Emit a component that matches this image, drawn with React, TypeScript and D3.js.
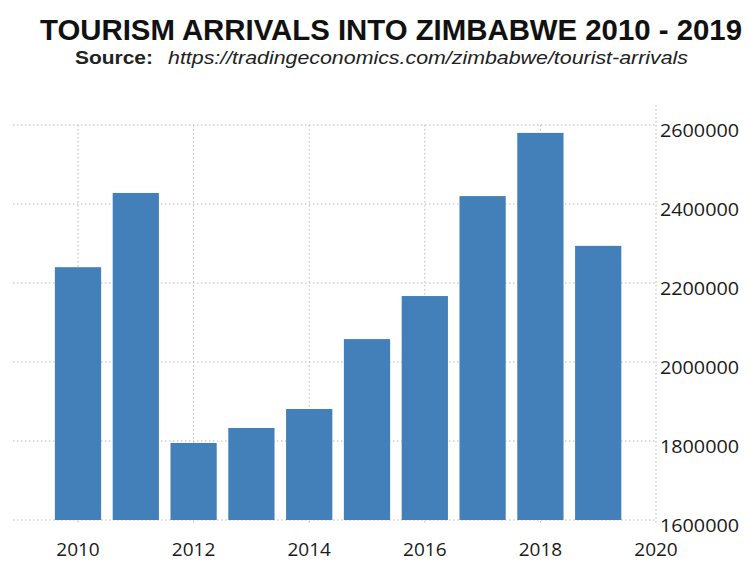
import React from "react";
import * as d3 from "d3";

const years = [2010, 2011, 2012, 2013, 2014, 2015, 2016, 2017, 2018, 2019];
const arrivals = [2240000, 2428000, 1795000, 1833000, 1881000, 2058000, 2167000, 2420000, 2580000, 2294000];
const yTicks = [1600000, 1800000, 2000000, 2200000, 2400000, 2600000];
const xTicks = [2010, 2012, 2014, 2016, 2018, 2020];

const W = 747;
const H = 562;

export default function App() {
  const x = d3.scaleLinear().domain([2010, 2020]).range([78, 656]);
  const y = d3.scaleLinear().domain([1600000, 2600000]).range([520, 125]);
  const barW = x(2010.8) - x(2010);
  const plotLeft = 13;
  const plotRight = x(2020);
  const grid = "#b8b8b8";
  const font = "'Open Sans', sans-serif";
  return (
    <svg width={W} height={H} style={{ position: "absolute", left: 0, top: 0, background: "#fff" }}>
      <rect x={0} y={0} width={W} height={H} fill="#fff" />
      <text x={40} y={40} textLength={702} lengthAdjust="spacingAndGlyphs"
        fontFamily="'Liberation Sans', Arial, sans-serif" fontWeight="bold" fontSize={29} fill="#111">
        TOURISM ARRIVALS INTO ZIMBABWE 2010 - 2019
      </text>
      <text x={75} y={64} fontFamily="'Liberation Sans', Arial, sans-serif" fontSize={19} fill="#222">
        <tspan fontWeight="bold" textLength={78} lengthAdjust="spacingAndGlyphs">Source:</tspan>
      </text>
      <text x={168} y={64} textLength={520} lengthAdjust="spacingAndGlyphs"
        fontFamily="'Liberation Sans', Arial, sans-serif" fontStyle="italic" fontSize={19} fill="#222">
        https://tradingeconomics.com/zimbabwe/tourist-arrivals
      </text>

      {yTicks.map((t) => (
        <line key={"h" + t} x1={plotLeft} x2={plotRight} y1={y(t)} y2={y(t)}
          stroke={grid} strokeWidth={1} strokeDasharray="1.5,2.5" />
      ))}
      {xTicks.map((t) => (
        <line key={"v" + t} x1={x(t)} x2={x(t)} y1={t === 2020 ? 105 : y(2600000)} y2={y(1600000) + 4}
          stroke={grid} strokeWidth={1} strokeDasharray="1.5,2.5" />
      ))}

      {years.map((yr, i) => (
        <rect key={yr} x={x(yr) - barW / 2} y={y(arrivals[i])} width={barW}
          height={y(1600000) - y(arrivals[i])} fill="#4380b9" />
      ))}

      {yTicks.map((t) => (
        <text key={"yl" + t} x={660} y={y(t) + 12} fontFamily={font} fontSize={19} fill="#1a1a1a"
          textLength={79} lengthAdjust="spacingAndGlyphs">
          {t}
        </text>
      ))}
      {xTicks.map((t) => (
        <text key={"xl" + t} x={x(t)} y={556} textAnchor="middle" fontFamily={font} fontSize={19} fill="#1a1a1a">
          {t}
        </text>
      ))}
    </svg>
  );
}
